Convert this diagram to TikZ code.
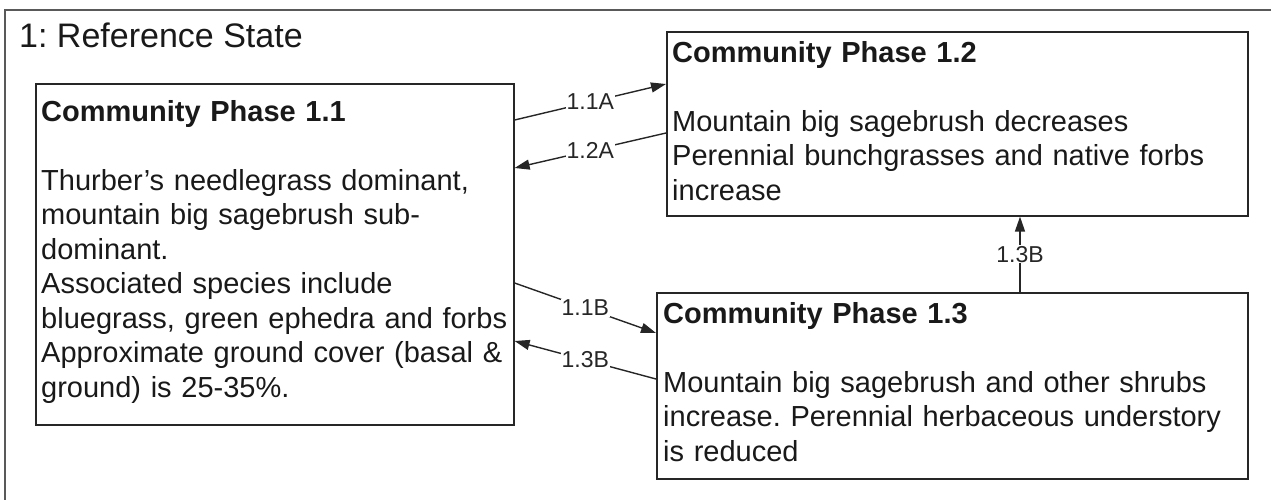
\documentclass[tikz,border=0pt]{standalone}
\usepackage{fontspec}
\setmainfont{Liberation Sans}
\usetikzlibrary{arrows.meta}
\frenchspacing

\begin{document}
\begin{tikzpicture}[x=1pt,y=-1pt,
  phase/.style={draw=black!85,line width=1.6pt,anchor=north west,inner sep=0pt},
  phasetxt/.style={anchor=base west,align=left,text width=600pt,inner sep=0pt,
    font=\fontsize{29}{34.5}\selectfont,text=black!90},
  trans/.style={draw=black!85,line width=1.4pt,-{Triangle[length=15pt,width=10pt]}},
  lbl/.style={fill=white,inner sep=1pt,font=\fontsize{23}{25}\selectfont,text=black!85}]
\useasboundingbox (0,0) rectangle (1271,499);
% state frame
\draw[black!65,line width=2pt] (1275,10) -- (5,10) -- (5,505);
\node[anchor=base west,inner sep=0pt,font=\fontsize{34}{38}\selectfont,text=black!90] (state) at (19,47) {1: Reference State};
% community phases
\node[phase,minimum width=478pt,minimum height=341pt] (p11) at (35,83) {};
\node[phase,minimum width=581pt,minimum height=184pt] (p12) at (666,31) {};
\node[phase,minimum width=591pt,minimum height=186pt] (p13) at (656,292) {};
\node[phasetxt] (p11txt) at ([xshift=6pt,yshift=-38pt]p11.north west) {\textbf{Community Phase 1.1}\\[34.5pt]
  Thurber's needlegrass dominant,\\ mountain big sagebrush sub-\\ dominant.\\
  Associated species include\\ bluegrass, green ephedra and forbs\\
  Approximate ground cover (basal \&\\ ground) is 25-35\%.};
\node[phasetxt] (p12txt) at ([xshift=6pt,yshift=-31pt]p12.north west) {\textbf{Community Phase 1.2}\\[34.5pt]
  Mountain big sagebrush decreases\\ Perennial bunchgrasses and native forbs\\ increase};
\node[phasetxt] (p13txt) at ([xshift=7pt,yshift=-31pt]p13.north west) {\textbf{Community Phase 1.3}\\[34.5pt]
  Mountain big sagebrush and other shrubs\\ increase. Perennial herbaceous understory\\ is reduced};
% transitions
\draw[trans] ([yshift=-37pt]p11.north east) -- node[lbl]{1.1A} ([yshift=-53pt]p12.north west);
\draw[trans] ([yshift=-102pt]p12.north west) -- node[lbl]{1.2A} ([yshift=-85pt]p11.north east);
\draw[trans] ([yshift=-200pt]p11.north east) -- node[lbl]{1.1B} ([yshift=-41pt]p13.north west);
\draw[trans] ([yshift=-87pt]p13.north west) -- node[lbl]{1.3B} ([yshift=-258pt]p11.north east);
\draw[trans] ([xshift=364pt]p13.north west) -- node[lbl]{1.3B} ([xshift=354pt]p12.south west);
\end{tikzpicture}
\end{document}
